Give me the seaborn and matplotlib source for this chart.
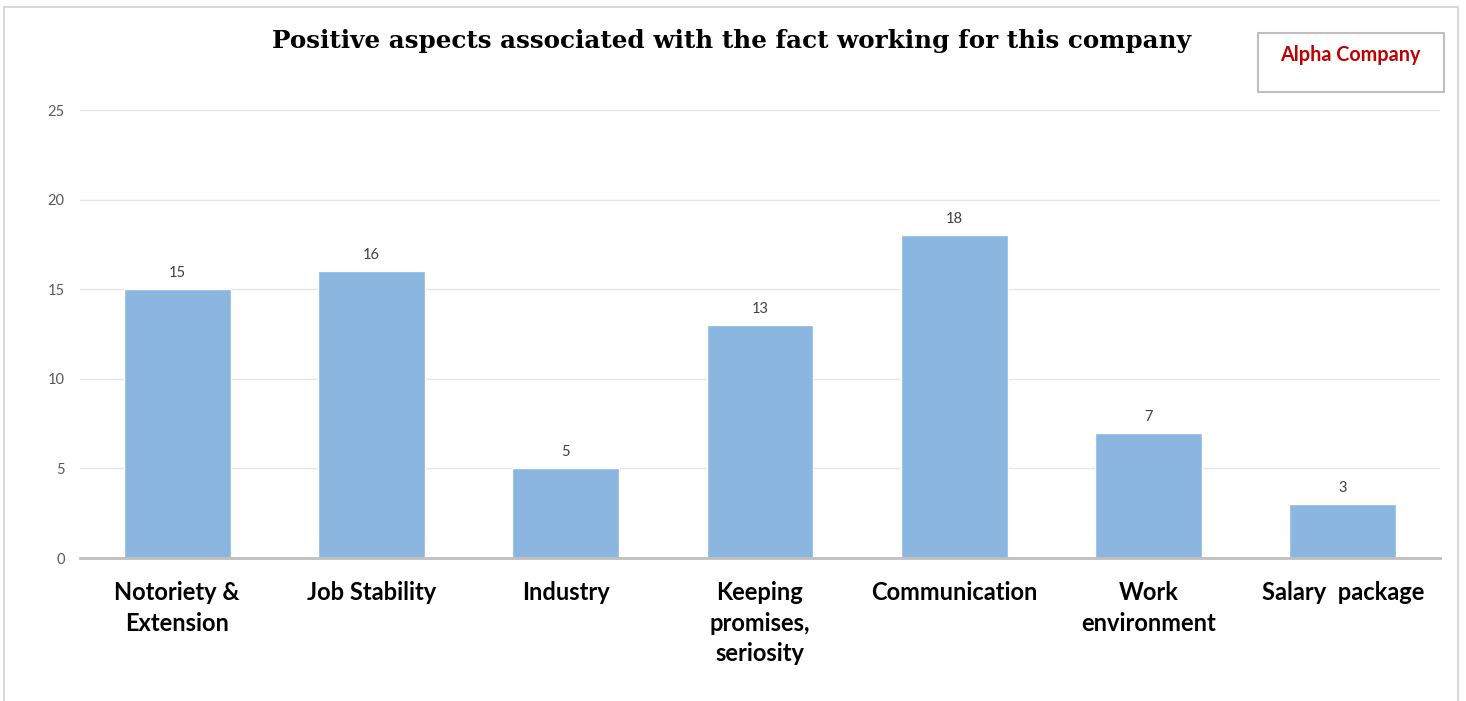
import matplotlib
matplotlib.use("Agg")
import matplotlib.pyplot as plt
import seaborn as sns
import pandas as pd
from matplotlib.patches import Rectangle

categories = ["Notoriety &\nExtension", "Job Stability", "Industry",
              "Keeping\npromises,\nseriosity", "Communication",
              "Work\nenvironment", "Salary  package"]
values = [15, 16, 5, 13, 18, 7, 3]
y_ticks = [0, 5, 10, 15, 20, 25]
title = "Positive aspects associated with the fact working for this company"
series_name = "Alpha Company"

sns.set_theme(style="white")
plt.rcParams['font.family'] = ['Lato', 'DejaVu Sans']

fig = plt.figure(figsize=(14.66, 7.01), dpi=100)
ax = fig.add_axes([80/1466, 1-558/701, 1360/1466, 448/701])

df = pd.DataFrame({"cat": categories, "val": values})
sns.barplot(data=df, x="cat", y="val", color="#8AB6E0", saturation=1,
            width=0.55, ax=ax, zorder=3)

ax.set_xlim(-0.5, 6.5)
ax.set_ylim(0, 25)
ax.set_yticks(y_ticks)
ax.set_yticklabels([str(t) for t in y_ticks], color="#595959", fontsize=10.5)
ax.tick_params(axis="y", length=0, pad=11)
ax.tick_params(axis="x", length=0, pad=16.5)
for lbl in ax.get_xticklabels():
    lbl.set_fontweight("bold")
    lbl.set_fontsize(17)
    lbl.set_color("black")
    lbl.set_linespacing(1.4)
    lbl.set_verticalalignment("top")
ax.set_xlabel("")
ax.set_ylabel("")
ax.grid(axis="y", color="#E6E6E6", linewidth=1, zorder=0)
for s in ["top", "right", "left"]:
    ax.spines[s].set_visible(False)
ax.spines["bottom"].set_color("#BFBFBF")
ax.spines["bottom"].set_linewidth(2)
ax.spines["bottom"].set_zorder(4)

for i, v in enumerate(values):
    ax.annotate(str(v), (i, v), xytext=(0, 6.5), textcoords="offset points",
                ha="center", va="bottom", color="#404040", fontsize=10.5)

fig.text(732/1466, 1-41/701, title, ha="center", va="center",
         fontsize=17.7, fontweight="bold", family="DejaVu Serif", color="black")

# outer border
fig.patches.append(Rectangle((4/1466, -0.01), 1454/1466, 1-7/701+0.01,
                             transform=fig.transFigure, fill=False,
                             edgecolor="#D9D9D9", linewidth=1.5))
# legend box
fig.patches.append(Rectangle((1258/1466, 1-92/701), 186/1466, 59/701,
                             transform=fig.transFigure, fill=False,
                             edgecolor="#BFBFBF", linewidth=1.5))
fig.text(1350/1466, 1-55/701, series_name, ha="center", va="center",
         fontsize=14.2, fontweight="bold", color="#C00000")

fig.savefig("out.png", dpi=100)
